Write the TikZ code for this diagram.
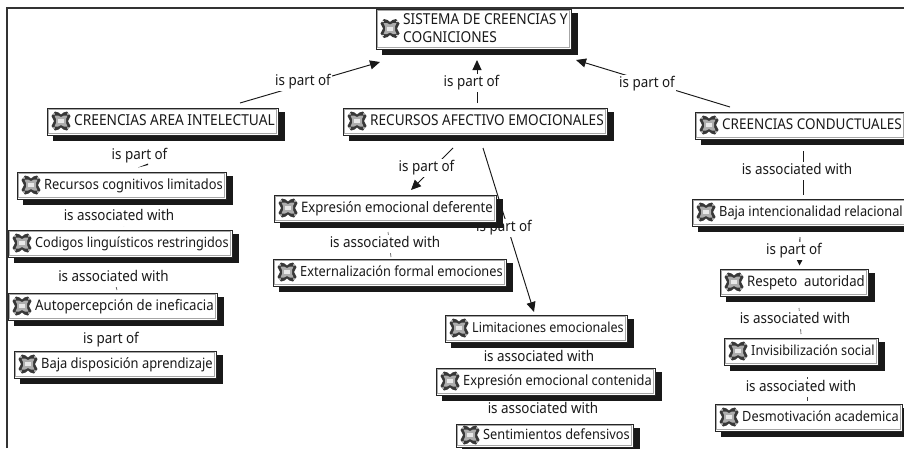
\documentclass[tikz,border=0pt]{standalone}
\usepackage{fontspec}
\usepackage{graphicx}
\setmainfont{Noto Sans}
\usetikzlibrary{backgrounds,arrows.meta}
\tikzset{
  cbox/.style={draw=black!85,fill=white,line width=.85pt,rectangle,inner sep=0pt,outer sep=0pt},
  ctext/.style={font=\fontsize{13.4}{15.5}\selectfont,anchor=west,inner sep=0pt,text=black!90},
  clabel/.style={font=\fontsize{13.4}{16}\selectfont,fill=white,inner xsep=1.5pt,inner ysep=2pt,text height=10.5pt,text depth=3.5pt,text=black!90},
  conn/.style={line width=.95pt,black!90},
  faint/.style={line width=.6pt,black!75},
  tip/.style={conn,-{Triangle[length=10pt,width=9pt]}},
  smalltip/.style={conn,-{Triangle[length=7pt,width=7pt]}},
  pics/gear/.style={code={
    \fill[black!78,line join=round]
      (-9.5,-5) -- (-6,-9.5) -- (-2.5,-8.5) -- (0,-6.5) -- (2.5,-8.5) -- (6,-9.5) -- (9.5,-5) -- (8,-2) -- (7,0) -- (8,2) -- (9.5,5) -- (6,9.5) -- (2.5,8.5) -- (0,6.5) -- (-2.5,8.5) -- (-6,9.5) -- (-9.5,5) -- (-8,2) -- (-7,0) -- (-8,-2) -- cycle;
    \fill[black!32] (-6.5,-5.5) -- (-3,-5.5) -- (0,-4) -- (3,-5.5) -- (6.5,-5.5) -- (5,-2) -- (5,2) -- (6.5,5.5) -- (3,5.5) -- (0,4) -- (-3,5.5) -- (-6.5,5.5) -- (-5,2) -- (-5,-2) -- cycle;
    \fill[white!70!black!30] (-3,-2) rectangle (3,2);
    \fill[white] (-7,-7) circle (.8) (7,-7) circle (.8) (-7,7) circle (.8) (7,7) circle (.8);
  }}
}
\newcommand{\vtext}[1]{\scalebox{1}[1.1]{#1}}
% #1 name, #2 x1, #3 y1, #4 x2, #5 y2, #6 text
\newcommand{\cmapbox}[6]{%
  \fill[black!90] (#2+6,#3+4) rectangle (#4+6.5,#5+5.5);
  \pgfmathsetmacro{\bw}{#4-#2}\pgfmathsetmacro{\bh}{#5-#3}\pgfmathsetmacro{\tw}{#4-#2-30.5}%
  \node[cbox,minimum width=\bw pt,minimum height=\bh pt] (#1) at ({(#2+#4)/2},{(#3+#5)/2}) {};
  \draw[line width=.45pt,black!35] (#2+1.7,#3+1.7) rectangle (#4-1.7,#5-1.7);
  \pic at (#2+14,{(#3+#5)/2-.5}) {gear};
  \node[ctext] (#1t) at (#2+27,{(#3+#5)/2+1}) {\resizebox{\tw pt}{!}{\vtext{\begin{tabular}{@{}l@{}}#6\end{tabular}}}};
}
\begin{document}
\begin{tikzpicture}[x=1pt,y=-1pt]
\useasboundingbox (0,0) rectangle (904,448);
\clip (0,0) rectangle (904,448);
\draw[line width=1.5pt,black!80] (7,448) -- (7,8) -- (904,8);

\cmapbox{top}{376}{9}{571}{49}{SISTEMA DE CREENCIAS Y\\COGNICIONES}
\cmapbox{area}{47}{108}{278}{135}{CREENCIAS AREA INTELECTUAL}
\cmapbox{afec}{343}{108}{607}{135}{RECURSOS AFECTIVO EMOCIONALES}
\cmapbox{cond}{695}{112}{905}{139}{CREENCIAS CONDUCTUALES}
\cmapbox{rcog}{17}{172}{226}{199}{Recursos cognitivos limitados}
\cmapbox{codi}{8}{230}{232}{257}{Codigos linguísticos restringidos}
\cmapbox{auto}{8}{293}{217}{320}{Autopercepción de ineficacia}
\cmapbox{bdis}{14}{351}{216}{378}{Baja disposición aprendizaje}
\cmapbox{edef}{274}{195}{496}{222}{Expresión emocional deferente}
\cmapbox{exte}{273}{259}{506}{286}{Externalización formal emociones}
\cmapbox{limi}{445}{315}{627}{342}{Limitaciones emocionales}
\cmapbox{econ}{436}{368}{655}{395}{Expresión emocional contenida}
\cmapbox{sent}{456}{424}{633}{447}{Sentimientos defensivos}
\cmapbox{bint}{692}{199}{906}{226}{Baja intencionalidad relacional}
\cmapbox{resp}{720}{269}{868}{296}{Respeto\ \ autoridad}
\cmapbox{invi}{724}{338}{878}{365}{Invisibilización social}
\cmapbox{desm}{715}{404}{902}{431}{Desmotivación academica}

\coordinate (a1) at (240,103);
\coordinate (b1) at (380,62);
\coordinate (a2) at (477,103);
\coordinate (b2) at (477,60);
\coordinate (a3) at (730,107);
\coordinate (b3) at (576,60);
\coordinate (a8) at (453,148);
\coordinate (b8) at (411,190);
\coordinate (a10) at (483,148);
\coordinate (b10) at (534,312);
\coordinate (a13) at (803,151);
\coordinate (b13) at (803,195);
\coordinate (a14) at (800,237);
\coordinate (b14) at (799.5,265.5);
\coordinate (c5) at (124,226);
\coordinate (c6) at (117,290);
\coordinate (c7) at (116,349);
\coordinate (a9) at (388,232);
\coordinate (b9) at (391,257);
\coordinate (a15) at (799,308);
\coordinate (b15) at (801,334);
\coordinate (a16) at (807,377);
\coordinate (b16) at (807,401);

\begin{scope}[on background layer]
\draw[tip] (a1) -- (b1);
\draw[tip] (a2) -- (b2);
\draw[tip] (a3) -- (b3);
\draw[tip] (a8) -- (b8);
\draw[tip] (a10) -- (b10);
\draw[conn] (a13) -- (b13);
\draw[smalltip] (a14) -- (b14);
\draw[faint] (a9) -- (b9);
\draw[faint] (a15) -- (b15);
\draw[faint] (a16) -- (b16);
\node[clabel] (l10) at (504,227.5) {\vtext{is part of}};
\end{scope}

\node[clabel] (l1) at (303,81.5) {\vtext{is part of}};
\node[clabel] (l2) at (471.5,82.5) {\vtext{is part of}};
\node[clabel] (l3) at (647,83.5) {\vtext{is part of}};
\node[clabel] (l4) at (139.5,155.5) {\vtext{is part of}};
\node[clabel] (l5) at (119,216.5) {\vtext{is associated with}};
\node[clabel] (l6) at (113.5,277.5) {\vtext{is associated with}};
\node[clabel] (l7) at (111,339.5) {\vtext{is part of}};
\node[clabel] (l8) at (426.5,167.5) {\vtext{is part of}};
\node[clabel] (l9) at (385,243.5) {\vtext{is associated with}};
\node[clabel] (l11) at (539,357.5) {\vtext{is associated with}};
\node[clabel] (l12) at (543,409.5) {\vtext{is associated with}};
\node[clabel] (l13) at (797,170.5) {\vtext{is associated with}};
\node[clabel] (l14) at (794,250.5) {\vtext{is part of}};
\node[clabel] (l15) at (795,319.5) {\vtext{is associated with}};
\node[clabel] (l16) at (801,387.5) {\vtext{is associated with}};

\fill[black!90] (138,167.5) -- (148,163.5) -- (148,165) -- cycle;
\begin{scope}[on background layer]
\draw[faint] (l5) -- (c5);
\draw[faint] (l6) -- (c6);
\draw[faint] (l7) -- (c7);
\end{scope}
\end{tikzpicture}
\end{document}
